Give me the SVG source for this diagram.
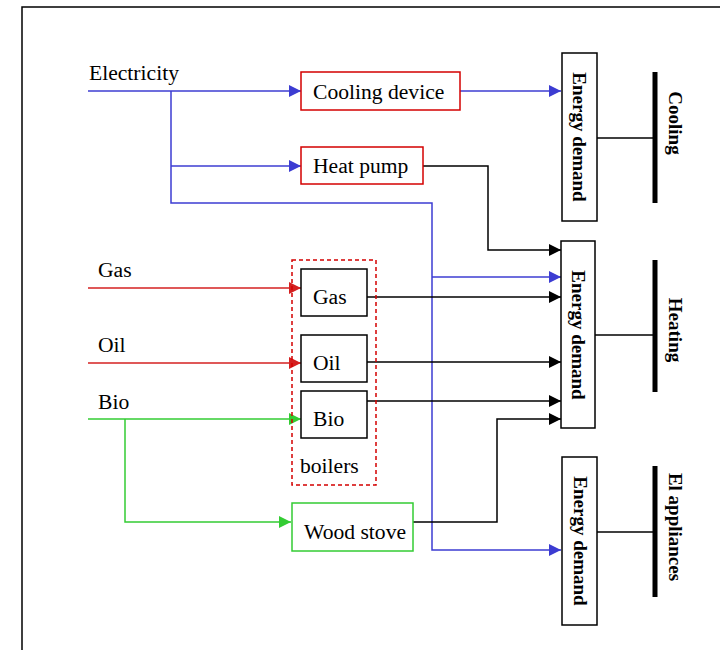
<svg xmlns="http://www.w3.org/2000/svg" width="720" height="650" viewBox="0 0 720 650">
<style>
text{font-family:"Liberation Serif","Times New Roman",serif;fill:#000}
.t{font-size:21.6px}
.b{font-size:19px;font-weight:bold}
.box{fill:#fff;stroke:#000;stroke-width:1.5}
.rbox{fill:#fff;stroke:#d40000;stroke-width:1.5}
.gbox{fill:#fff;stroke:#33cc33;stroke-width:1.5}
.blue{fill:none;stroke:#3c3cd2;stroke-width:1.5}
.red{fill:none;stroke:#d42020;stroke-width:1.5}
.green{fill:none;stroke:#33cc33;stroke-width:1.5}
.blk{fill:none;stroke:#000;stroke-width:1.5}
.bar{stroke:#000;stroke-width:5}
</style>
<defs>
<marker id="ab" viewBox="0 0 10 10" refX="10" refY="5" markerWidth="12" markerHeight="12" markerUnits="userSpaceOnUse" orient="auto"><path d="M0,0L10,5L0,10z" fill="#3c3cd2"/></marker>
<marker id="ar" viewBox="0 0 10 10" refX="10" refY="5" markerWidth="12" markerHeight="12" markerUnits="userSpaceOnUse" orient="auto"><path d="M0,0L10,5L0,10z" fill="#d42020"/></marker>
<marker id="ag" viewBox="0 0 10 10" refX="10" refY="5" markerWidth="12" markerHeight="12" markerUnits="userSpaceOnUse" orient="auto"><path d="M0,0L10,5L0,10z" fill="#33cc33"/></marker>
<marker id="ak" viewBox="0 0 10 10" refX="10" refY="5" markerWidth="12" markerHeight="12" markerUnits="userSpaceOnUse" orient="auto"><path d="M0,0L10,5L0,10z" fill="#000"/></marker>
</defs>
<rect width="720" height="650" fill="#fff"/>
<path d="M22,650V7H720" fill="none" stroke="#000" stroke-width="1.5"/>

<g id="labels">
<text class="t" x="89" y="80">Electricity</text>
<text class="t" x="98" y="277">Gas</text>
<text class="t" x="98" y="352">Oil</text>
<text class="t" x="98" y="409">Bio</text>
</g>

<g id="connectors">
<path class="blue" d="M88,91H301" marker-end="url(#ab)"/>
<path class="blue" d="M171,91V203H432V550H561" marker-end="url(#ab)"/>
<path class="blue" d="M171,166H301" marker-end="url(#ab)"/>
<path class="blue" d="M432,277H561" marker-end="url(#ab)"/>
<path class="blue" d="M460,91H561" marker-end="url(#ab)"/>
<path class="blk" d="M423,166H488V250H561" marker-end="url(#ak)"/>
<path class="blk" d="M367,297H561" marker-end="url(#ak)"/>
<path class="blk" d="M367,362H561" marker-end="url(#ak)"/>
<path class="blk" d="M367,401H561" marker-end="url(#ak)"/>
<path class="blk" d="M413,522H497V419H561" marker-end="url(#ak)"/>
<path class="red" d="M88,288H301" marker-end="url(#ar)"/>
<path class="red" d="M88,363H301" marker-end="url(#ar)"/>
<path class="green" d="M88,419H301" marker-end="url(#ag)"/>
<path class="green" d="M125,419V522H291" marker-end="url(#ag)"/>
<path class="blk" d="M597,138H655"/>
<path class="blk" d="M595,335H655"/>
<path class="blk" d="M597,532H655"/>
</g>

<g id="boilers">
<rect x="292" y="260" width="84" height="225" fill="none" stroke="#d40000" stroke-width="1.5" stroke-dasharray="4,3"/>
<text class="t" x="300" y="473">boilers</text>
</g>
<g id="cooling-device"><rect class="rbox" x="301" y="72" width="159" height="38"/><text class="t" x="313" y="99">Cooling device</text></g>
<g id="heat-pump"><rect class="rbox" x="301" y="147" width="122" height="37"/><text class="t" x="313" y="173">Heat pump</text></g>
<g id="gas-boiler"><rect class="box" x="301" y="269" width="66" height="47"/><text class="t" x="313" y="304">Gas</text></g>
<g id="oil-boiler"><rect class="box" x="301" y="335" width="66" height="47"/><text class="t" x="313" y="370">Oil</text></g>
<g id="bio-boiler"><rect class="box" x="301" y="391" width="66" height="47"/><text class="t" x="313" y="426">Bio</text></g>
<g id="wood-stove"><rect class="gbox" x="292" y="503" width="121" height="48"/><text class="t" x="304" y="539">Wood stove</text></g>

<g id="demand-cooling"><rect class="box" x="562" y="53" width="35" height="168"/><text class="b" text-anchor="middle" transform="translate(573,137) rotate(90)">Energy demand</text></g>
<g id="demand-heating"><rect class="box" x="561" y="241" width="34" height="187"/><text class="b" text-anchor="middle" transform="translate(572,335) rotate(90)">Energy demand</text></g>
<g id="demand-el"><rect class="box" x="562" y="457" width="35" height="168"/><text class="b" text-anchor="middle" transform="translate(574,541) rotate(90)">Energy demand</text></g>

<g id="cooling"><line class="bar" x1="655" y1="72" x2="655" y2="203"/><text class="b" text-anchor="middle" transform="translate(669,123) rotate(90)">Cooling</text></g>
<g id="heating"><line class="bar" x1="655" y1="260" x2="655" y2="392"/><text class="b" text-anchor="middle" transform="translate(669,330) rotate(90)">Heating</text></g>
<g id="el-appliances"><line class="bar" x1="655" y1="466" x2="655" y2="597"/><text class="b" text-anchor="middle" transform="translate(669,527) rotate(90)">El appliances</text></g>
</svg>
